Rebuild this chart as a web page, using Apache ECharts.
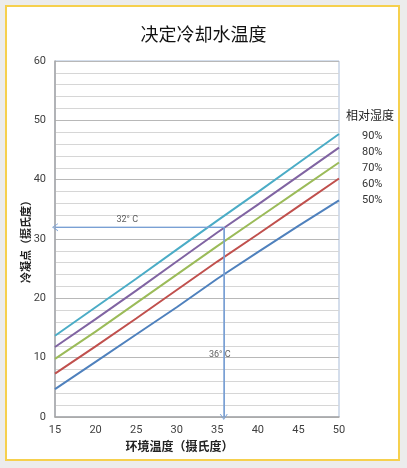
<!DOCTYPE html>
<html>
<head>
<meta charset="utf-8">
<title>决定冷却水温度</title>
<script src="https://cdn.jsdelivr.net/npm/echarts@6/dist/echarts.min.js"></script>
<style>
  html, body { margin: 0; padding: 0; }
  body { width: 407px; height: 468px; background: #ececec; position: relative; overflow: hidden; }
  #frame { position: absolute; left: 5px; top: 5px; width: 391px; height: 452px; background: #fff; border: 2px solid #f6d04d; }
  #chart { position: absolute; left: 0; top: 0; width: 407px; height: 468px; }
</style>
</head>
<body>
<div id="frame"></div>
<div id="chart"></div>
<script>
/*
 * 数据
 */
var temps = [15, 20, 25, 30, 35, 40, 45, 50];
var rh90 = [13.7, 18.5, 23.3, 28.2, 33.1, 37.9, 42.8, 47.7];
var rh80 = [11.8, 16.5, 21.3, 26.2, 31.1, 35.8, 40.6, 45.4];
var rh70 = [9.8, 14.4, 19.2, 24.0, 28.8, 33.5, 38.2, 42.9];
var rh60 = [7.3, 11.9, 16.6, 21.4, 26.2, 30.8, 35.5, 40.2];
var rh50 = [4.7, 9.3, 13.9, 18.5, 23.3, 27.8, 32.2, 36.5];
var rhNames = ['90%', '80%', '70%', '60%', '50%'];
var rhColors = ['#4bacc6', '#8064a2', '#9bbb59', '#c0504d', '#4f81bd'];

// 示例：36°C、80% -> 32°C
var guideH = [[15, 32], [35.8, 32]];
var guideV = [[35.8, 32], [35.8, 0]];
var guideLabels = [
  { value: [23.9, 33.3], text: '32° C' },
  { value: [35.3, 10.5], text: '36° C' }
];

var tickFont = 'Liberation Sans Narrow, Roboto, sans-serif';
var cjkFont = 'Noto Sans CJK SC, sans-serif';
// 空心箭头
var openArrow = 'path://M5,0 L10,10 L8.8,10 L5,2.4 L1.2,10 L0,10 Z';

function pairs(xs, ys) {
  var out = [];
  for (var i = 0; i < xs.length; i++) {
    out.push([xs[i], ys[i]]);
  }
  return out;
}

var lineSets = [rh90, rh80, rh70, rh60, rh50];
var series = lineSets.map(function(ys, i) {
  return {
    name: rhNames[i],
    type: 'line',
    data: pairs(temps, ys),
    showSymbol: false,
    smooth: false,
    lineStyle: { color: rhColors[i], width: 2 },
    itemStyle: { color: rhColors[i] },
    z: 3
  };
});

// 参考线
var guideStyle = { color: '#7aa0d4', width: 1, type: 'solid' };
series.push({
  name: 'guideH',
  type: 'line',
  data: guideH,
  showSymbol: false,
  lineStyle: guideStyle,
  z: 4,
  markLine: {
    silent: true,
    symbol: [openArrow, 'none'],
    symbolSize: [8, 6],
    label: { show: false },
    lineStyle: guideStyle,
    data: [[{ coord: guideH[0] }, { coord: guideH[1] }]]
  }
});
series.push({
  name: 'guideV',
  type: 'line',
  data: guideV,
  showSymbol: false,
  lineStyle: guideStyle,
  z: 4,
  markLine: {
    silent: true,
    symbol: ['none', openArrow],
    symbolSize: [8, 6],
    label: { show: false },
    lineStyle: guideStyle,
    data: [[{ coord: guideV[0] }, { coord: guideV[1] }]]
  }
});
series.push({
  name: 'guideText',
  type: 'scatter',
  symbolSize: 0,
  data: guideLabels.map(function(d) {
    return { value: d.value, label: { formatter: d.text } };
  }),
  label: {
    show: true,
    position: 'inside',
    color: '#333',
    fontSize: 9,
    fontFamily: tickFont
  },
  z: 5
});

var options = {
  animation: false,
  backgroundColor: 'transparent',
  title: [
    {
      text: '决定冷却水温度',
      left: 'center',
      top: 20,
      textStyle: { fontFamily: cjkFont, fontSize: 18, fontWeight: 'normal', color: '#111' }
    },
    {
      text: '相对湿度',
      left: 341,
      top: 104,
      textStyle: { fontFamily: cjkFont, fontSize: 12, fontWeight: 'normal', color: '#222' }
    }
  ],
  legend: {
    data: rhNames,
    orient: 'vertical',
    left: 351,
    top: 126,
    itemWidth: 0,
    itemHeight: 0,
    itemGap: 5,
    selectedMode: false,
    textStyle: { fontFamily: tickFont, fontSize: 11, color: '#333' }
  },
  grid: {
    left: 55,
    right: 68,
    top: 61,
    bottom: 51,
    show: true,
    borderColor: '#a9bcd8',
    borderWidth: 1
  },
  xAxis: {
    type: 'value',
    min: 15,
    max: 50,
    interval: 5,
    name: '环境温度（摄氏度）',
    nameLocation: 'middle',
    nameGap: 23,
    nameTextStyle: { fontFamily: cjkFont, fontSize: 12, fontWeight: 'bold', color: '#222', padding: [0, 35, 0, 0] },
    axisLine: { show: true, lineStyle: { color: '#a6a6a6', width: 1.5 } },
    axisTick: { show: false },
    axisLabel: { fontFamily: tickFont, fontSize: 11, color: '#404040', margin: 8 },
    splitLine: { show: false }
  },
  yAxis: {
    type: 'value',
    min: 0,
    max: 60,
    interval: 10,
    name: '冷凝点（摄氏度）',
    nameLocation: 'middle',
    nameGap: 24,
    nameMoveOverlap: false,
    nameRotate: 90,
    nameTextStyle: { fontFamily: cjkFont, fontSize: 11, fontWeight: 'bold', color: '#222' },
    axisLine: { show: true, lineStyle: { color: '#a6a6a6', width: 1.5 } },
    axisTick: { show: false },
    axisLabel: { fontFamily: tickFont, fontSize: 11, color: '#404040', margin: 9 },
    splitLine: { show: true, lineStyle: { color: '#b8b8b8', width: 1.2 } },
    minorTick: { show: false, splitNumber: 5 },
    minorSplitLine: { show: true, lineStyle: { color: '#d6d6d6', width: 1.2 } }
  },
  series: series
};

/*
 * 初始化echarts
 */
function initECharts(el, opts) {
  var myEchart = echarts.init(el);
  myEchart.setOption(opts);
  return myEchart;
}

initECharts(document.getElementById('chart'), options);
</script>
</body>
</html>
